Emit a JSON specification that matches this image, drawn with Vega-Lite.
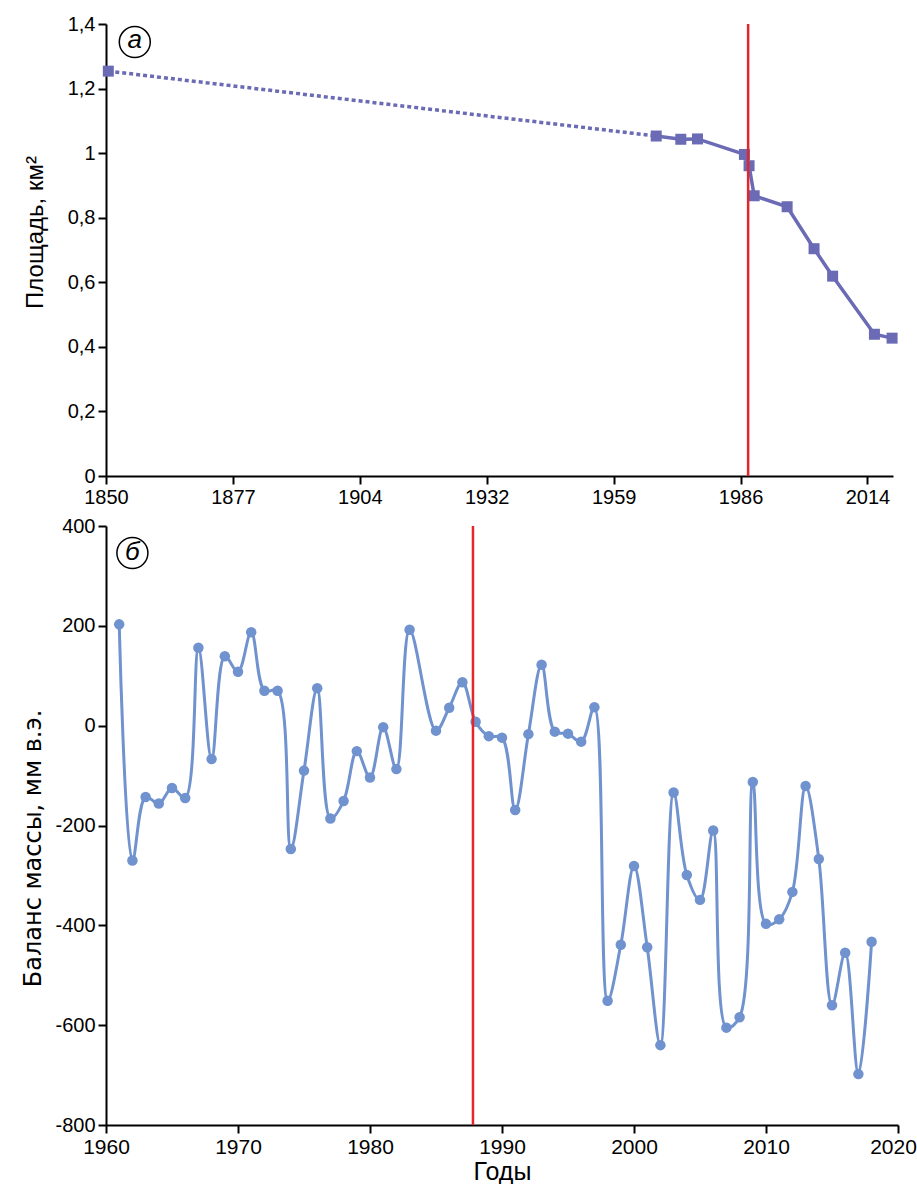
{
  "$schema": "https://vega.github.io/schema/vega-lite/v6.json",
  "padding": {"left": 21, "top": 14, "right": 0, "bottom": 0},
  "background": "white",
  "config": {
    "view": {"stroke": null},
    "font": "Liberation Sans",
    "axis": {
      "grid": false,
      "domainColor": "black",
      "domainWidth": 2,
      "tickColor": "black",
      "tickWidth": 2,
      "tickSize": 8,
      "labelColor": "black",
      "labelFont": "Liberation Sans",
      "labelFontSize": 20,
      "labelPadding": 3,
      "titleColor": "black",
      "titleFont": "Liberation Sans",
      "titleFontSize": 24,
      "titleFontWeight": "normal"
    }
  },
  "datasets": {
    "area": [
      {"year": 1850.5, "area": 1.254},
      {"year": 1968.5, "area": 1.053},
      {"year": 1973.8, "area": 1.043},
      {"year": 1977.4, "area": 1.044},
      {"year": 1987.5, "area": 0.996},
      {"year": 1988.5, "area": 0.961},
      {"year": 1989.6, "area": 0.868},
      {"year": 1996.7, "area": 0.834},
      {"year": 2002.5, "area": 0.704},
      {"year": 2006.5, "area": 0.619},
      {"year": 2015.5, "area": 0.439},
      {"year": 2019.3, "area": 0.427}
    ],
    "balance": [
      {"year": 1961, "mb": 203}, {"year": 1962, "mb": -270}, {"year": 1963, "mb": -143},
      {"year": 1964, "mb": -156}, {"year": 1965, "mb": -125}, {"year": 1966, "mb": -145},
      {"year": 1967, "mb": 156}, {"year": 1968, "mb": -67}, {"year": 1969, "mb": 139},
      {"year": 1970, "mb": 108}, {"year": 1971, "mb": 187}, {"year": 1972, "mb": 70},
      {"year": 1973, "mb": 70}, {"year": 1974, "mb": -247}, {"year": 1975, "mb": -90},
      {"year": 1976, "mb": 75}, {"year": 1977, "mb": -186}, {"year": 1978, "mb": -151},
      {"year": 1979, "mb": -51}, {"year": 1980, "mb": -104}, {"year": 1981, "mb": -3},
      {"year": 1982, "mb": -87}, {"year": 1983, "mb": 192}, {"year": 1985, "mb": -10},
      {"year": 1986, "mb": 36}, {"year": 1987, "mb": 87}, {"year": 1988, "mb": 8},
      {"year": 1989, "mb": -21}, {"year": 1990, "mb": -24}, {"year": 1991, "mb": -169},
      {"year": 1992, "mb": -17}, {"year": 1993, "mb": 122}, {"year": 1994, "mb": -12},
      {"year": 1995, "mb": -16}, {"year": 1996, "mb": -32}, {"year": 1997, "mb": 37},
      {"year": 1998, "mb": -551}, {"year": 1999, "mb": -439}, {"year": 2000, "mb": -281},
      {"year": 2001, "mb": -444}, {"year": 2002, "mb": -640}, {"year": 2003, "mb": -134},
      {"year": 2004, "mb": -299}, {"year": 2005, "mb": -349}, {"year": 2006, "mb": -210},
      {"year": 2007, "mb": -605}, {"year": 2008, "mb": -584}, {"year": 2009, "mb": -113},
      {"year": 2010, "mb": -397}, {"year": 2011, "mb": -388}, {"year": 2012, "mb": -333},
      {"year": 2013, "mb": -121}, {"year": 2014, "mb": -267}, {"year": 2015, "mb": -560},
      {"year": 2016, "mb": -455}, {"year": 2017, "mb": -698}, {"year": 2018, "mb": -433}
    ]
  },
  "vconcat": [
    {
      "width": 787,
      "height": 452,
      "layer": [
        {
          "data": {"name": "area"},
          "transform": [{"filter": "datum.year <= 1969"}],
          "mark": {"type": "line", "color": "#6a6ab5", "strokeWidth": 3.5, "strokeDash": [4, 3]},
          "encoding": {
            "x": {"field": "year", "type": "quantitative",
                  "scale": {"domain": [1850, 2019.5], "nice": false, "zero": false},
                  "axis": {"title": null, "values": [1850, 1877.333, 1904.667, 1932, 1959.333, 1986.667, 2014],
                           "labelExpr": "'' + floor(datum.value)", "labelFlush": false}},
            "y": {"field": "area", "type": "quantitative",
                  "scale": {"domain": [0, 1.4], "nice": false, "zero": false},
                  "axis": {"title": "Площадь, км²", "values": [0, 0.2, 0.4, 0.6, 0.8, 1, 1.2, 1.4],
                           "format": "~g", "labelExpr": "replace(datum.label, '.', ',')",
                           "titlePadding": 20, "titleY": 208}}
          }
        },
        {
          "data": {"name": "area"},
          "transform": [{"filter": "datum.year >= 1968"}],
          "mark": {"type": "line", "color": "#6a6ab5", "strokeWidth": 3.5},
          "encoding": {
            "x": {"field": "year", "type": "quantitative"},
            "y": {"field": "area", "type": "quantitative"}
          }
        },
        {
          "data": {"name": "area"},
          "mark": {"type": "point", "shape": "square", "filled": true, "size": 121, "color": "#6a6ab5", "opacity": 1},
          "encoding": {
            "x": {"field": "year", "type": "quantitative"},
            "y": {"field": "area", "type": "quantitative"}
          }
        },
        {
          "data": {"values": [{"x": 1856.2, "y": 1.344, "t": "а"}]},
          "layer": [
            {
              "mark": {"type": "point", "shape": "circle", "size": 961, "filled": false, "stroke": "black", "strokeWidth": 1.5, "opacity": 1},
              "encoding": {"x": {"field": "x", "type": "quantitative"}, "y": {"field": "y", "type": "quantitative"}}
            },
            {
              "mark": {"type": "text", "fontSize": 26, "fontStyle": "italic", "font": "Liberation Sans", "color": "black", "baseline": "middle", "align": "center", "dy": -2},
              "encoding": {"x": {"field": "x", "type": "quantitative"}, "y": {"field": "y", "type": "quantitative"}, "text": {"field": "t"}}
            }
          ]
        },
        {
          "data": {"values": [{"x": 1988.3}]},
          "mark": {"type": "rule", "color": "#e3262b", "strokeWidth": 2.5},
          "encoding": {"x": {"field": "x", "type": "quantitative"}}
        }
      ]
    },
    {
      "width": 792,
      "height": 599,
      "layer": [
        {
          "data": {"name": "balance"},
          "mark": {"type": "line", "color": "#7092ce", "strokeWidth": 3, "interpolate": "catmull-rom"},
          "encoding": {
            "x": {"field": "year", "type": "quantitative",
                  "scale": {"domain": [1960, 2020], "nice": false, "zero": false},
                  "axis": {"title": "Годы", "values": [1960, 1970, 1980, 1990, 2000, 2010, 2020],
                           "format": "d", "labelFlush": false, "titlePadding": 2, "titleFontSize": 25,
                           "labelFontSize": 21,
                           "labelOffset": {"condition": {"test": "datum.value == 2020", "value": -5}, "value": 0}}},
            "y": {"field": "mb", "type": "quantitative",
                  "scale": {"domain": [-800, 400], "nice": false, "zero": false},
                  "axis": {"title": "Баланс массы, мм в.э.", "values": [-800, -600, -400, -200, 0, 200, 400],
                           "labelExpr": "'' + datum.value", "titlePadding": 9, "labelFontSize": 20,
                           "titleFont": "DejaVu Sans", "titleFontSize": 24, "titleY": 322}}
          }
        },
        {
          "data": {"name": "balance"},
          "mark": {"type": "point", "shape": "circle", "filled": true, "size": 110, "color": "#7092ce", "opacity": 1},
          "encoding": {
            "x": {"field": "year", "type": "quantitative"},
            "y": {"field": "mb", "type": "quantitative"}
          }
        },
        {
          "data": {"values": [{"x": 1962.0, "y": 346, "t": "б"}]},
          "layer": [
            {
              "mark": {"type": "point", "shape": "circle", "size": 961, "filled": false, "stroke": "black", "strokeWidth": 1.5, "opacity": 1},
              "encoding": {"x": {"field": "x", "type": "quantitative"}, "y": {"field": "y", "type": "quantitative"}}
            },
            {
              "mark": {"type": "text", "fontSize": 26, "fontStyle": "italic", "font": "Liberation Sans", "color": "black", "baseline": "middle", "align": "center", "dy": -1},
              "encoding": {"x": {"field": "x", "type": "quantitative"}, "y": {"field": "y", "type": "quantitative"}, "text": {"field": "t"}}
            }
          ]
        },
        {
          "data": {"values": [{"x": 1987.8}]},
          "mark": {"type": "rule", "color": "#e3262b", "strokeWidth": 2.5},
          "encoding": {"x": {"field": "x", "type": "quantitative"}}
        }
      ]
    }
  ],
  "spacing": 9
}
